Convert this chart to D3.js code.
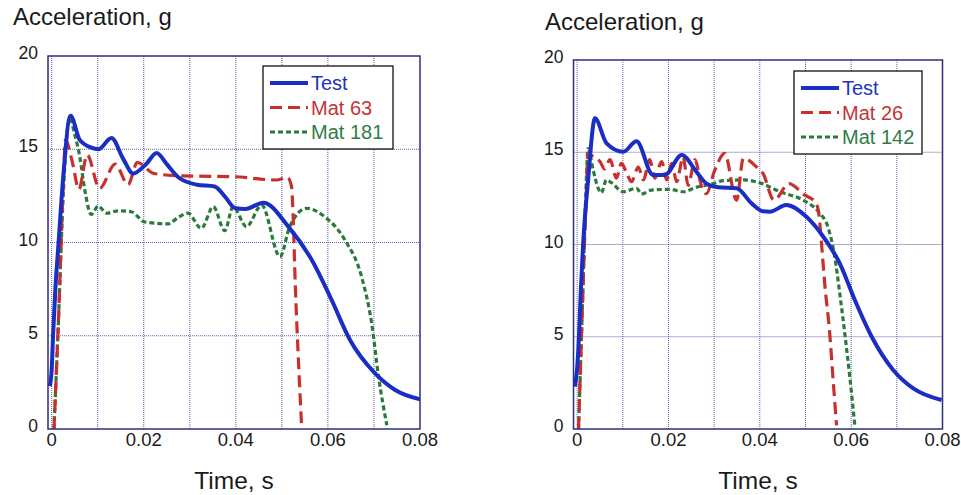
<!DOCTYPE html>
<html>
<head>
<meta charset="utf-8">
<script src="https://cdn.jsdelivr.net/npm/d3@7"></script>
<style>
	body { margin: 0; background: white; }
	text { font-family: "Liberation Sans", Arial, sans-serif; }
</style>
</head>
<body>
<svg class="chart" width="961" height="495"></svg>
<script>

// left panel: [time s, acceleration g]
var leftTest = [[-0.0004,2.3],[0.0,3.2],[0.0003,5.0],[0.0008,7.5],[0.0015,10.0],[0.0025,13.5],[0.0041,16.8],[0.0061,15.5],[0.0085,15.1],[0.0101,15.0],[0.013,15.6],[0.0155,14.5],[0.0177,13.7],[0.0205,14.2],[0.0228,14.8],[0.025,14.2],[0.0275,13.5],[0.0315,13.1],[0.0354,13.0],[0.0375,12.5],[0.0398,11.85],[0.042,11.8],[0.046,12.13],[0.0514,10.85],[0.0565,9.06],[0.0608,6.92],[0.0648,4.77],[0.0702,2.99],[0.0746,2.09],[0.08,1.59]];
var leftMatA = [[0.0005,0],[0.0015,6],[0.0025,13],[0.003,15.5],[0.0045,14.3],[0.0059,12.85],[0.0077,14.7],[0.0104,12.9],[0.0138,14.2],[0.0166,13.1],[0.0186,14.3],[0.0222,13.7],[0.0286,13.57],[0.0394,13.53],[0.0488,13.35],[0.0512,13.5],[0.0521,13.0],[0.0525,11.0],[0.0529,7.8],[0.0535,4.2],[0.0543,0.1]];
var leftMatB = [[0.0005,0],[0.0015,6],[0.0025,12.5],[0.0039,16.66],[0.005,15.8],[0.0061,14.6],[0.0072,12.8],[0.0086,11.5],[0.0101,11.96],[0.0119,11.57],[0.0145,11.7],[0.0173,11.65],[0.0202,11.1],[0.0253,11.0],[0.0275,11.35],[0.0296,11.57],[0.0325,10.76],[0.0351,11.92],[0.0376,10.63],[0.0394,11.92],[0.0423,10.85],[0.0456,12.0],[0.0496,9.24],[0.0517,10.85],[0.0554,11.83],[0.0593,11.38],[0.0637,10.13],[0.0673,8.17],[0.0695,5.67],[0.071,2.8],[0.0728,0.2]];

// right panel
var rightTest = [[-0.0005,2.3],[0.0,3.3],[0.0004,5.0],[0.0008,7.5],[0.0013,10.0],[0.0024,13.5],[0.0039,16.84],[0.0064,15.5],[0.0101,15.03],[0.013,15.6],[0.0166,13.77],[0.0192,13.77],[0.0229,14.85],[0.0261,13.95],[0.0283,13.3],[0.0309,13.1],[0.0349,13.05],[0.0382,12.23],[0.0407,11.8],[0.0422,11.78],[0.0458,12.14],[0.0502,11.5],[0.0539,10.42],[0.0575,8.98],[0.0608,6.99],[0.0645,5.0],[0.0692,3.2],[0.0736,2.2],[0.0798,1.57]];
var rightMatA = [[0.0003,0],[0.0012,7],[0.0019,12],[0.0024,14.94],[0.0035,14.76],[0.005,14.5],[0.006,14.1],[0.0072,14.6],[0.0086,13.6],[0.0097,14.4],[0.0108,13.9],[0.0119,13.4],[0.0134,14.2],[0.0145,13.5],[0.0159,14.6],[0.017,13.6],[0.0185,14.5],[0.0196,13.5],[0.0207,14.4],[0.0218,13.4],[0.0232,14.75],[0.0243,13.2],[0.0258,14.6],[0.0272,13.2],[0.0283,12.75],[0.0301,14.0],[0.0323,14.94],[0.0349,12.4],[0.0364,14.67],[0.0393,14.2],[0.0407,13.85],[0.0431,12.4],[0.0464,13.3],[0.0497,12.7],[0.0521,12.3],[0.0528,11.87],[0.0535,10.06],[0.0542,7.9],[0.0553,5.2],[0.0561,2.48],[0.0568,0.2]];
var rightMatB = [[0.0003,0],[0.0012,7],[0.0018,12],[0.0024,15.2],[0.0035,14.04],[0.0046,13.05],[0.0053,12.8],[0.0064,13.5],[0.0075,13.35],[0.0101,12.86],[0.013,13.05],[0.0141,12.74],[0.0163,12.95],[0.0203,12.99],[0.0232,12.86],[0.0261,13.1],[0.0298,13.3],[0.032,13.46],[0.0364,13.5],[0.0405,13.3],[0.0444,12.86],[0.0495,12.4],[0.0528,11.78],[0.055,10.88],[0.0564,9.34],[0.0575,7.35],[0.0586,5.19],[0.0597,2.83],[0.0608,0.2]];

var leftNames = ["Test", "Mat 63", "Mat 181"];
var rightNames = ["Test", "Mat 26", "Mat 142"];
var xTicks = [0, 0.02, 0.04, 0.06, 0.08];
var xGrid = [0, 0.01, 0.02, 0.03, 0.04, 0.05, 0.06, 0.07];
var yTicks = [0, 5, 10, 15, 20];
var yGrid = [5, 10, 15];
var yTitle = "Acceleration, g";
var xTitle = "Time, s";

var colors = ["#1a2ec4", "#c8302e", "#2b7a3c"];
var textColors = ["#2233c0", "#c23434", "#2f7c48"];
var dashes = [null, "12,6", "5,3"];
var widths = [4, 3.2, 3.2];

var svg = d3.select(".chart");

function panel(id, series, names, box, titlePos, legendBox){
	var x = d3.scaleLinear().domain([-0.0008, 0.08]).range([box.left, box.right]);
	var y = d3.scaleLinear().domain([0, 20]).range([box.bottom, box.top]);
	var g = svg.append("g");

	g.append("defs").append("clipPath").attr("id", "clip" + id)
		.append("rect")
		.attr("x", box.left).attr("y", box.top)
		.attr("width", box.right - box.left).attr("height", box.bottom - box.top);

	g.selectAll(".vgrid")
		.data(xGrid)
		.enter()
		.append("line")
		.attr("x1", function(d){return x(d)})
		.attr("x2", function(d){return x(d)})
		.attr("y1", box.top)
		.attr("y2", box.bottom)
		.style("stroke", "#5c5ca8")
		.style("stroke-width", 1)
		.style("stroke-dasharray", "1,1");

	g.selectAll(".hgrid")
		.data(yGrid)
		.enter()
		.append("line")
		.attr("x1", box.left)
		.attr("x2", box.right)
		.attr("y1", function(d){return y(d)})
		.attr("y2", function(d){return y(d)})
		.style("stroke", "#5c5ca8")
		.style("stroke-width", 1)
		.style("stroke-dasharray", "1,1");

	var line = d3.line()
		.x(function(d){return x(d[0])})
		.y(function(d){return y(d[1])})
		.curve(d3.curveMonotoneX);

	// draw materials first, test on top like the original
	[2, 1, 0].forEach(function(i){
		g.append("path")
			.datum(series[i])
			.attr("d", line)
			.attr("clip-path", "url(#clip" + id + ")")
			.style("fill", "none")
			.style("stroke", colors[i])
			.style("stroke-width", widths[i])
			.style("stroke-dasharray", dashes[i]);
	});

	g.append("rect")
		.attr("x", box.left).attr("y", box.top)
		.attr("width", box.right - box.left).attr("height", box.bottom - box.top)
		.style("fill", "none")
		.style("stroke", "#2e2e80")
		.style("stroke-width", 1.5);

	g.selectAll(".xlab")
		.data(xTicks)
		.enter()
		.append("text")
		.text(function(d){return d == 0 ? "0" : d3.format(".2f")(d)})
		.attr("x", function(d){return x(d)})
		.attr("y", 446)
		.attr("text-anchor", "middle")
		.style("font-size", "18.5px")
		.style("fill", "#1a1a1a");

	g.selectAll(".ylab")
		.data(yTicks)
		.enter()
		.append("text")
		.text(function(d){return d})
		.attr("x", box.left - 10)
		.attr("y", function(d){return y(d) + 3})
		.attr("text-anchor", "end")
		.style("font-size", "17.5px")
		.style("fill", "#1a1a1a");

	g.append("text")
		.text(yTitle)
		.attr("x", titlePos[0])
		.attr("y", titlePos[1])
		.style("font-size", "24px")
		.style("fill", "#1a1a1a");

	g.append("text")
		.text(xTitle)
		.attr("x", (box.left + box.right) / 2)
		.attr("y", 489)
		.attr("text-anchor", "middle")
		.style("font-size", "24.5px")
		.style("fill", "#1a1a1a");

	// legend
	var lg = g.append("g");
	lg.append("rect")
		.attr("x", legendBox.x).attr("y", legendBox.y)
		.attr("width", legendBox.w).attr("height", legendBox.h)
		.style("fill", "white")
		.style("stroke", "#111")
		.style("stroke-width", 1.3);

	lg.selectAll("line")
		.data(names)
		.enter()
		.append("line")
		.attr("x1", legendBox.x + 7)
		.attr("x2", legendBox.x + 45)
		.attr("y1", function(d, i){return legendBox.y + 17 + i * 24.5})
		.attr("y2", function(d, i){return legendBox.y + 17 + i * 24.5})
		.style("stroke", function(d, i){return colors[i]})
		.style("stroke-width", function(d, i){return widths[i]})
		.style("stroke-dasharray", function(d, i){return dashes[i]});

	lg.selectAll("text")
		.data(names)
		.enter()
		.append("text")
		.text(function(d){return d})
		.attr("x", legendBox.x + 48)
		.attr("y", function(d, i){return legendBox.y + 24 + i * 24.5})
		.style("font-size", "20px")
		.style("fill", function(d, i){return textColors[i]});
}

panel("L", [leftTest, leftMatA, leftMatB], leftNames,
	{left: 48, right: 420, top: 56, bottom: 429}, [13, 25],
	{x: 263, y: 66, w: 130, h: 83});

panel("R", [rightTest, rightMatA, rightMatB], rightNames,
	{left: 573.5, right: 942.5, top: 60, bottom: 429}, [545, 30],
	{x: 794, y: 71, w: 128, h: 83});

</script>
</body>
</html>
